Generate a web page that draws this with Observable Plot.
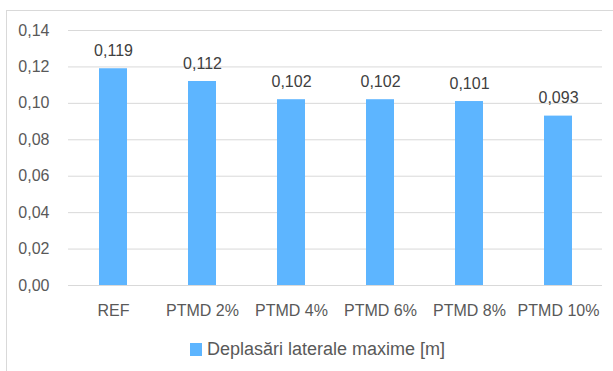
<!DOCTYPE html>
<html><head><meta charset="utf-8">
<script src="https://cdn.jsdelivr.net/npm/d3@7"></script>
<script src="https://cdn.jsdelivr.net/npm/@observablehq/plot@0.6"></script>
<style>
body{margin:0;background:#fff;}
#frame{position:absolute;left:6px;top:10px;width:640px;height:400px;border:1px solid #d9d9d9;box-sizing:border-box;}
#chart{position:absolute;left:0;top:0;}
#legend{position:absolute;left:0;top:339px;width:613px;box-sizing:border-box;display:flex;justify-content:center;align-items:center;padding-left:22px;
font-family:"Liberation Sans",Arial,sans-serif;font-size:18px;color:#595959;}
#legend span.sw{display:inline-block;width:12px;height:13px;background:#5db5ff;margin-right:5px;}
</style></head>
<body>
<div id="frame"></div>
<div id="chart"></div>
<div id="legend"><span class="sw"></span><span id="lt"></span></div>
<script>
const categories = ["REF","PTMD 2%","PTMD 4%","PTMD 6%","PTMD 8%","PTMD 10%"];
const values = [0.119,0.112,0.102,0.102,0.101,0.093];
const seriesName = "Deplasări laterale maxime [m]";
const yTicks = [0,0.02,0.04,0.06,0.08,0.10,0.12,0.14];

const data = categories.map((c,i)=>({cat:c, v:values[i]}));
const fmt2 = d => d.toFixed(2).replace(".", ",");
const fmt3 = d => d.toFixed(3).replace(".", ",");
const font = '"Liberation Sans",Arial,sans-serif';

const chart = Plot.plot({
  width: 613, height: 330,
  marginLeft: 68, marginRight: 11, marginTop: 30, marginBottom: 45,
  style: {fontFamily: font, fontSize: "16px", color: "#595959", background: "transparent"},
  x: {domain: categories, paddingInner: 0.69, paddingOuter: 0.345, label: null, tickSize: 0, tickPadding: 19},
  y: {domain: [0, 0.14], ticks: yTicks, tickFormat: fmt2, label: null, tickSize: 0, tickPadding: 19},
  marks: [
    Plot.gridY(yTicks, {stroke: "#d9d9d9", strokeOpacity: 1, strokeWidth: 1}),
    Plot.barY(data, {x: "cat", y: "v", fill: "#5db5ff"}),
    Plot.text(data, {x: "cat", y: "v", text: d => fmt3(d.v), dy: -18, fill: "#404040", fontSize: 16})
  ]
});
document.getElementById("chart").appendChild(chart);
document.getElementById("lt").textContent = seriesName;
</script>
</body></html>
